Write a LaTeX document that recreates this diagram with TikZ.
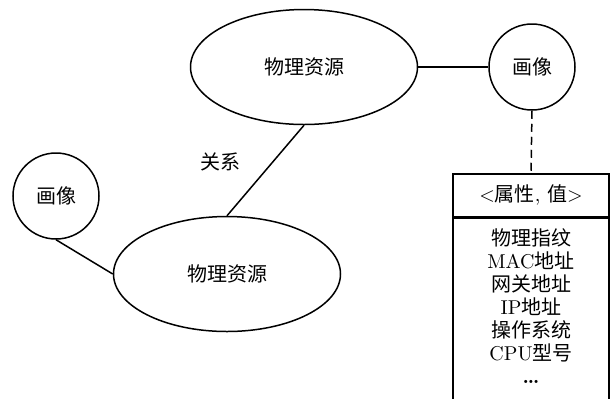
\documentclass[tikz,border=0pt]{standalone}
\usepackage{fontspec}
\newfontfamily\cjk{Noto Sans CJK SC}
\usetikzlibrary{shapes.geometric}
\begin{document}
\begin{tikzpicture}[x=0.5pt,y=-0.5pt,line width=0.75pt,
  res/.style={ellipse,draw,minimum width=113.5pt,minimum height=57.5pt,inner sep=0pt,font=\cjk},
  img/.style={circle,draw,minimum size=43pt,inner sep=0pt,font=\cjk},
  lbl/.style={inner sep=0pt,font=\cjk},
  attrbox/.style={draw,rectangle,minimum width=78pt,inner xsep=0pt},
  link/.style={draw},
  dlink/.style={draw,dash pattern=on 4pt off 2.5pt}]
\useasboundingbox (0,0) rectangle (610,398);
\clip (0,0) rectangle (610,398);
\node[res] (r1) at (304,67) {物理资源};
\node[img] (i1) at (532,67) {画像};
\node[res] (r2) at (227,274) {物理资源};
\node[img] (i2) at (56,196) {画像};
\node[lbl] (rel) at (220,162) {关系};
\node[attrbox,minimum height=21.5pt,inner ysep=0pt] (hdr) at (531,195.5) {<{\cjk 属性}, {\cjk 值}>};
\node[attrbox,anchor=north,align=center,inner ysep=5pt,text depth=8pt,
      font=\fontsize{10}{11.5}\selectfont] (body) at (hdr.south)
  {{\cjk 物理指纹}\\MAC{\cjk 地址}\\{\cjk 网关地址}\\IP{\cjk 地址}\\{\cjk 操作系统}\\CPU{\cjk 型号}\\\textbf{\dots}};
\path[link] (r1.east) -- (i1.west);
\path[dlink] (i1.south) -- (hdr.north);
\path[link] (r2.north) -- (r1.south);
\path[link] (i2.south) -- (r2.west);
\end{tikzpicture}
\end{document}
